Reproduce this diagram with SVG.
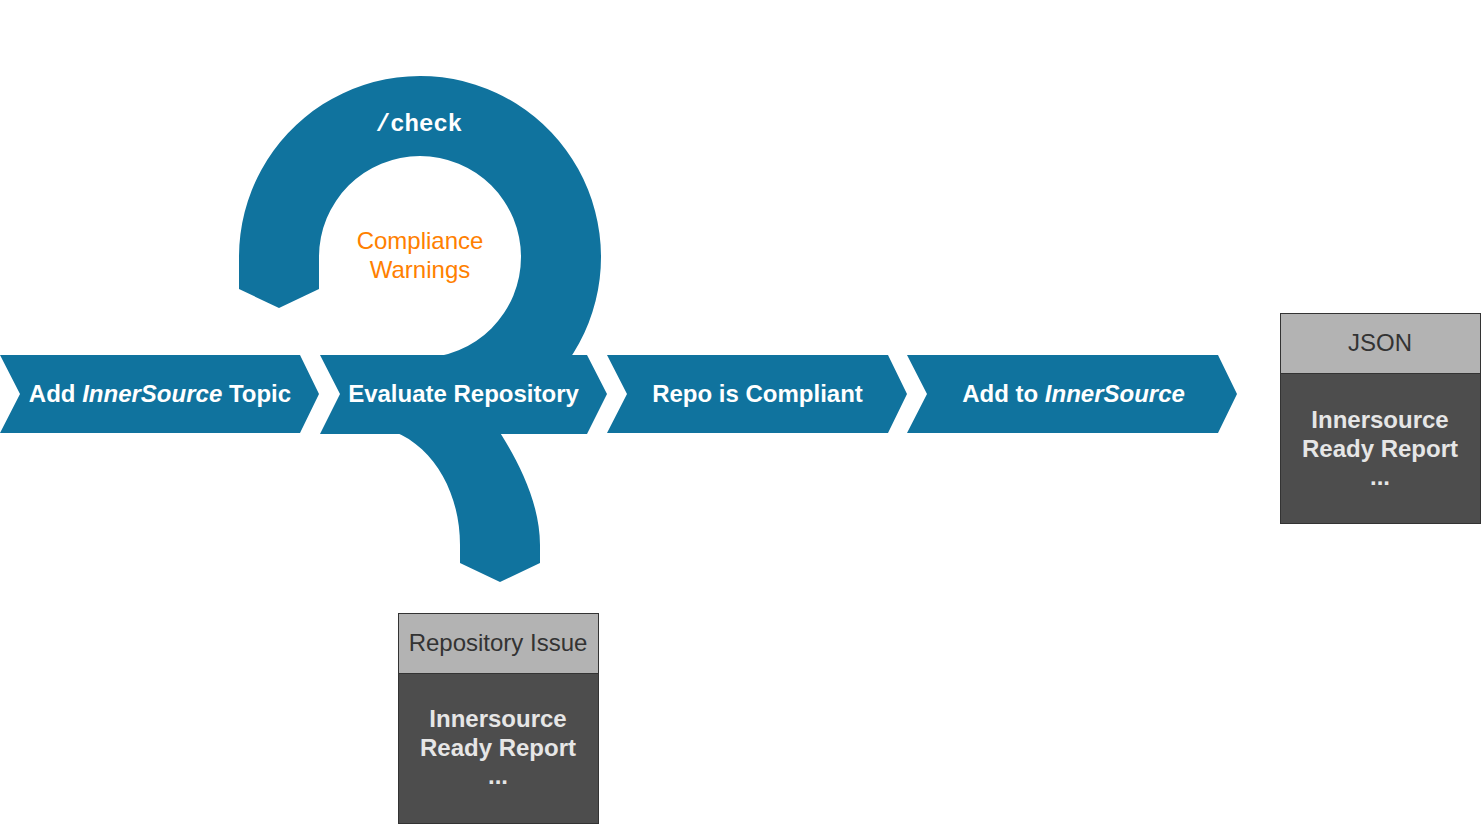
<svg xmlns="http://www.w3.org/2000/svg" width="1481" height="826" viewBox="0 0 1481 826">
<style>
.blue{fill:#10739E;}
.chev{font-family:"Liberation Sans",Arial,sans-serif;font-weight:bold;font-size:24px;fill:#ffffff;text-anchor:middle;}
.mono{font-family:"Liberation Mono","Courier New",monospace;font-weight:bold;font-size:24px;fill:#ffffff;text-anchor:middle;}
.warn{font-family:"Liberation Sans",Arial,sans-serif;font-size:24px;fill:#FF8000;text-anchor:middle;}
.head{fill:#B3B3B3;stroke:#333333;stroke-width:1;}
.body{fill:#4D4D4D;stroke:#333333;stroke-width:1;}
.htxt{font-family:"Liberation Sans",Arial,sans-serif;font-size:24px;fill:#333333;text-anchor:middle;}
.btxt{font-family:"Liberation Sans",Arial,sans-serif;font-weight:bold;font-size:24px;fill:#E6E6E6;text-anchor:middle;}
</style>
<rect width="1481" height="826" fill="#ffffff"/>
<g id="connectors">
  <path id="check-loop" class="blue" d="M 239 289 L 239 257 A 181 181 0 1 1 536.3 395.7 L 420 358 A 101 101 0 1 0 319 257 L 319 289 L 279 308 Z"/>
  <path id="issue-arrow" class="blue" d="M 360 425 C 420 425 460 480 460 545 L 460 563 L 500 582 L 540 563 L 540 545 C 540 500 515 455 495 425 Z"/>
  <text class="mono" x="419" y="131">/check</text>
</g>
<g id="warnings">
  <text class="warn" x="420" y="249">Compliance</text>
  <text class="warn" x="420" y="278">Warnings</text>
</g>
<g id="step-add-topic">
  <polygon class="blue" points="0,355 300,355 319,394 300,433 0,433 20,394"/>
  <text class="chev" x="160" y="402">Add <tspan font-style="italic">InnerSource</tspan> Topic</text>
</g>
<g id="step-evaluate">
  <polygon class="blue" points="320,355 587,355 607,394 587,434 320,434 340,394"/>
  <text class="chev" x="463.5" y="402">Evaluate Repository</text>
</g>
<g id="step-compliant">
  <polygon class="blue" points="607,355 888,355 907,394 888,433 607,433 627,394"/>
  <text class="chev" x="757.5" y="402">Repo is Compliant</text>
</g>
<g id="step-add-innersource">
  <polygon class="blue" points="907,355 1218,355 1237,394 1218,433 907,433 927,394"/>
  <text class="chev" x="1073.5" y="402">Add to <tspan font-style="italic">InnerSource</tspan></text>
</g>
<g id="json-report">
  <rect class="head" x="1280.5" y="313.5" width="200" height="60"/>
  <rect class="body" x="1280.5" y="373.5" width="200" height="150"/>
  <text class="htxt" x="1380" y="351">JSON</text>
  <text class="btxt" x="1380" y="428">Innersource</text>
  <text class="btxt" x="1380" y="457">Ready Report</text>
  <text class="btxt" x="1380" y="485">...</text>
</g>
<g id="issue-report">
  <rect class="head" x="398.5" y="613.5" width="200" height="60"/>
  <rect class="body" x="398.5" y="673.5" width="200" height="150"/>
  <text class="htxt" x="498" y="651">Repository Issue</text>
  <text class="btxt" x="498" y="727">Innersource</text>
  <text class="btxt" x="498" y="756">Ready Report</text>
  <text class="btxt" x="498" y="784">...</text>
</g>
</svg>
